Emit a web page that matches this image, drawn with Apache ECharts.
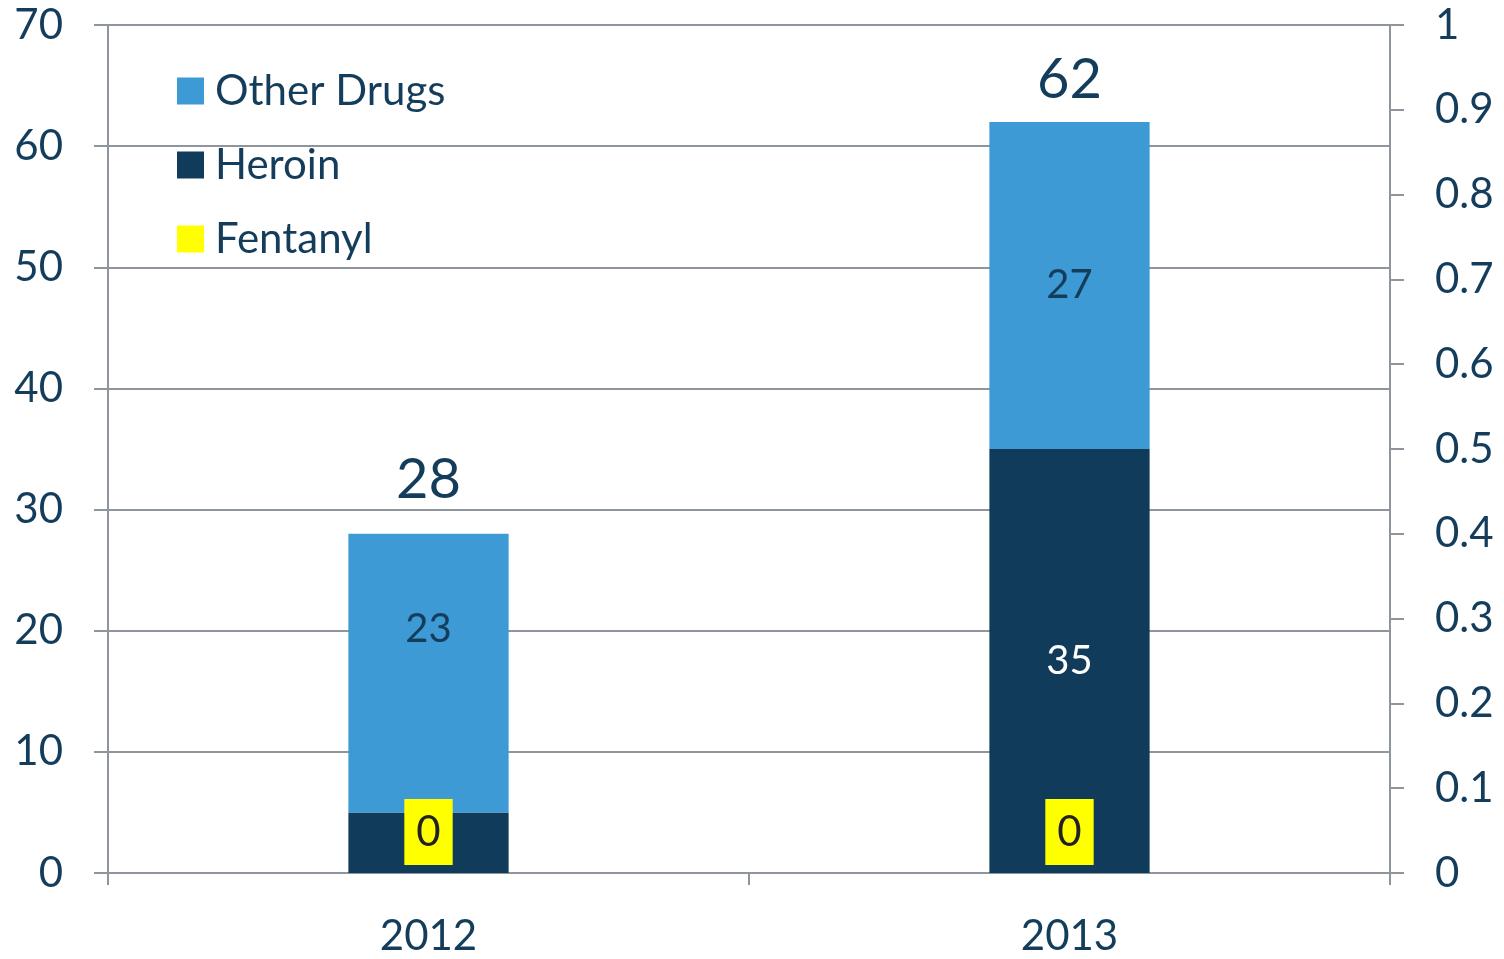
<html>
<head>
    <meta charset="utf-8">
    <title>Drug deaths 2012-2013</title>
    <script src="https://cdn.jsdelivr.net/npm/echarts@6/dist/echarts.min.js"></script>
</head>
<body style="margin:0">
<div id="main" style="width: 1504px;height:959px;"></div>
<script type="text/javascript">
    var years = ['2012', '2013'];
    var fentanyl = [0, 0];
    var heroin = [5, 35];
    var otherDrugs = [23, 27];
    var totals = [28, 62];
    var leftTicks = [0, 70, 10];   // min, max, interval
    var rightTicks = [0, 1, 0.1];

    var navy = '#143d5c';
    var grey = '#8e959c';
    var font = 'Lato';

    var myChart = echarts.init(document.getElementById('main'));

    var axisCommon = {
        type: 'value',
        axisLine: {show: true, lineStyle: {color: grey, width: 2}},
        axisTick: {show: true, length: 14, lineStyle: {color: grey, width: 2}},
        axisLabel: {color: navy, fontSize: 42, fontFamily: font, margin: 45}
    };

    // 2012 "other drugs" label sits higher than the segment centre in the original
    var otherData = otherDrugs.map(function (v, i) {
        return i === 0 ? {value: v, label: {offset: [0, -44]}} : v;
    });
    // total labels: invisible zero-height bar on top of the stack
    var totalData = totals.map(function (t, i) {
        return {value: 0, label: {distance: i === 0 ? 26 : 14}};
    });

    var option = {
        backgroundColor: '#fff',
        animation: false,
        textStyle: {fontFamily: font},
        grid: {left: 108, right: 114, top: 25, bottom: 86},
        legend: {
            data: ['Other Drugs', 'Heroin', 'Fentanyl'],
            orient: 'vertical',
            left: 172,
            top: 62,
            itemWidth: 27,
            itemHeight: 27,
            itemGap: 26,
            icon: 'rect',
            textStyle: {color: navy, fontSize: 42, lineHeight: 48, fontFamily: font, padding: [0, 0, 0, 6]}
        },
        xAxis: {
            type: 'category',
            data: years,
            axisLine: {lineStyle: {color: grey, width: 2}},
            axisTick: {show: true, length: 12, lineStyle: {color: grey, width: 2}},
            axisLabel: {color: navy, fontSize: 42, fontFamily: font, margin: 42}
        },
        yAxis: [
            Object.assign({}, axisCommon, {
                min: leftTicks[0], max: leftTicks[1], interval: leftTicks[2],
                splitLine: {show: true, lineStyle: {color: grey, width: 2}}
            }),
            Object.assign({}, axisCommon, {
                position: 'right',
                min: rightTicks[0], max: rightTicks[1], interval: rightTicks[2],
                splitLine: {show: false}
            })
        ],
        series: [{
            name: 'Fentanyl', type: 'bar', stack: 'all', barWidth: '25%', z: 5,
            itemStyle: {color: '#ffff00'},
            data: fentanyl,
            label: {
                show: true, position: 'top', distance: 8,
                color: '#222', fontSize: 42, lineHeight: 48, fontFamily: font,
                backgroundColor: '#ffff00', padding: [9, 12, 9, 12]
            }
        }, {
            name: 'Heroin', type: 'bar', stack: 'all',
            itemStyle: {color: '#113b5a'},
            data: heroin,
            label: {
                show: true, position: 'inside', color: '#fff', fontSize: 40, fontFamily: font,
                formatter: function (p) { return p.value >= 10 ? p.value : ''; }
            }
        }, {
            name: 'Other Drugs', type: 'bar', stack: 'all',
            itemStyle: {color: '#3d9ad5'},
            data: otherData,
            label: {show: true, position: 'inside', color: navy, fontSize: 40, fontFamily: font}
        }, {
            name: 'Total', type: 'bar', stack: 'all',
            data: totalData,
            itemStyle: {color: 'transparent'},
            label: {
                show: true, position: 'top',
                color: navy, fontSize: 56, fontFamily: font,
                formatter: function (p) { return totals[p.dataIndex]; }
            }
        }]
    };

    myChart.setOption(option);
</script>
</body>
</html>
